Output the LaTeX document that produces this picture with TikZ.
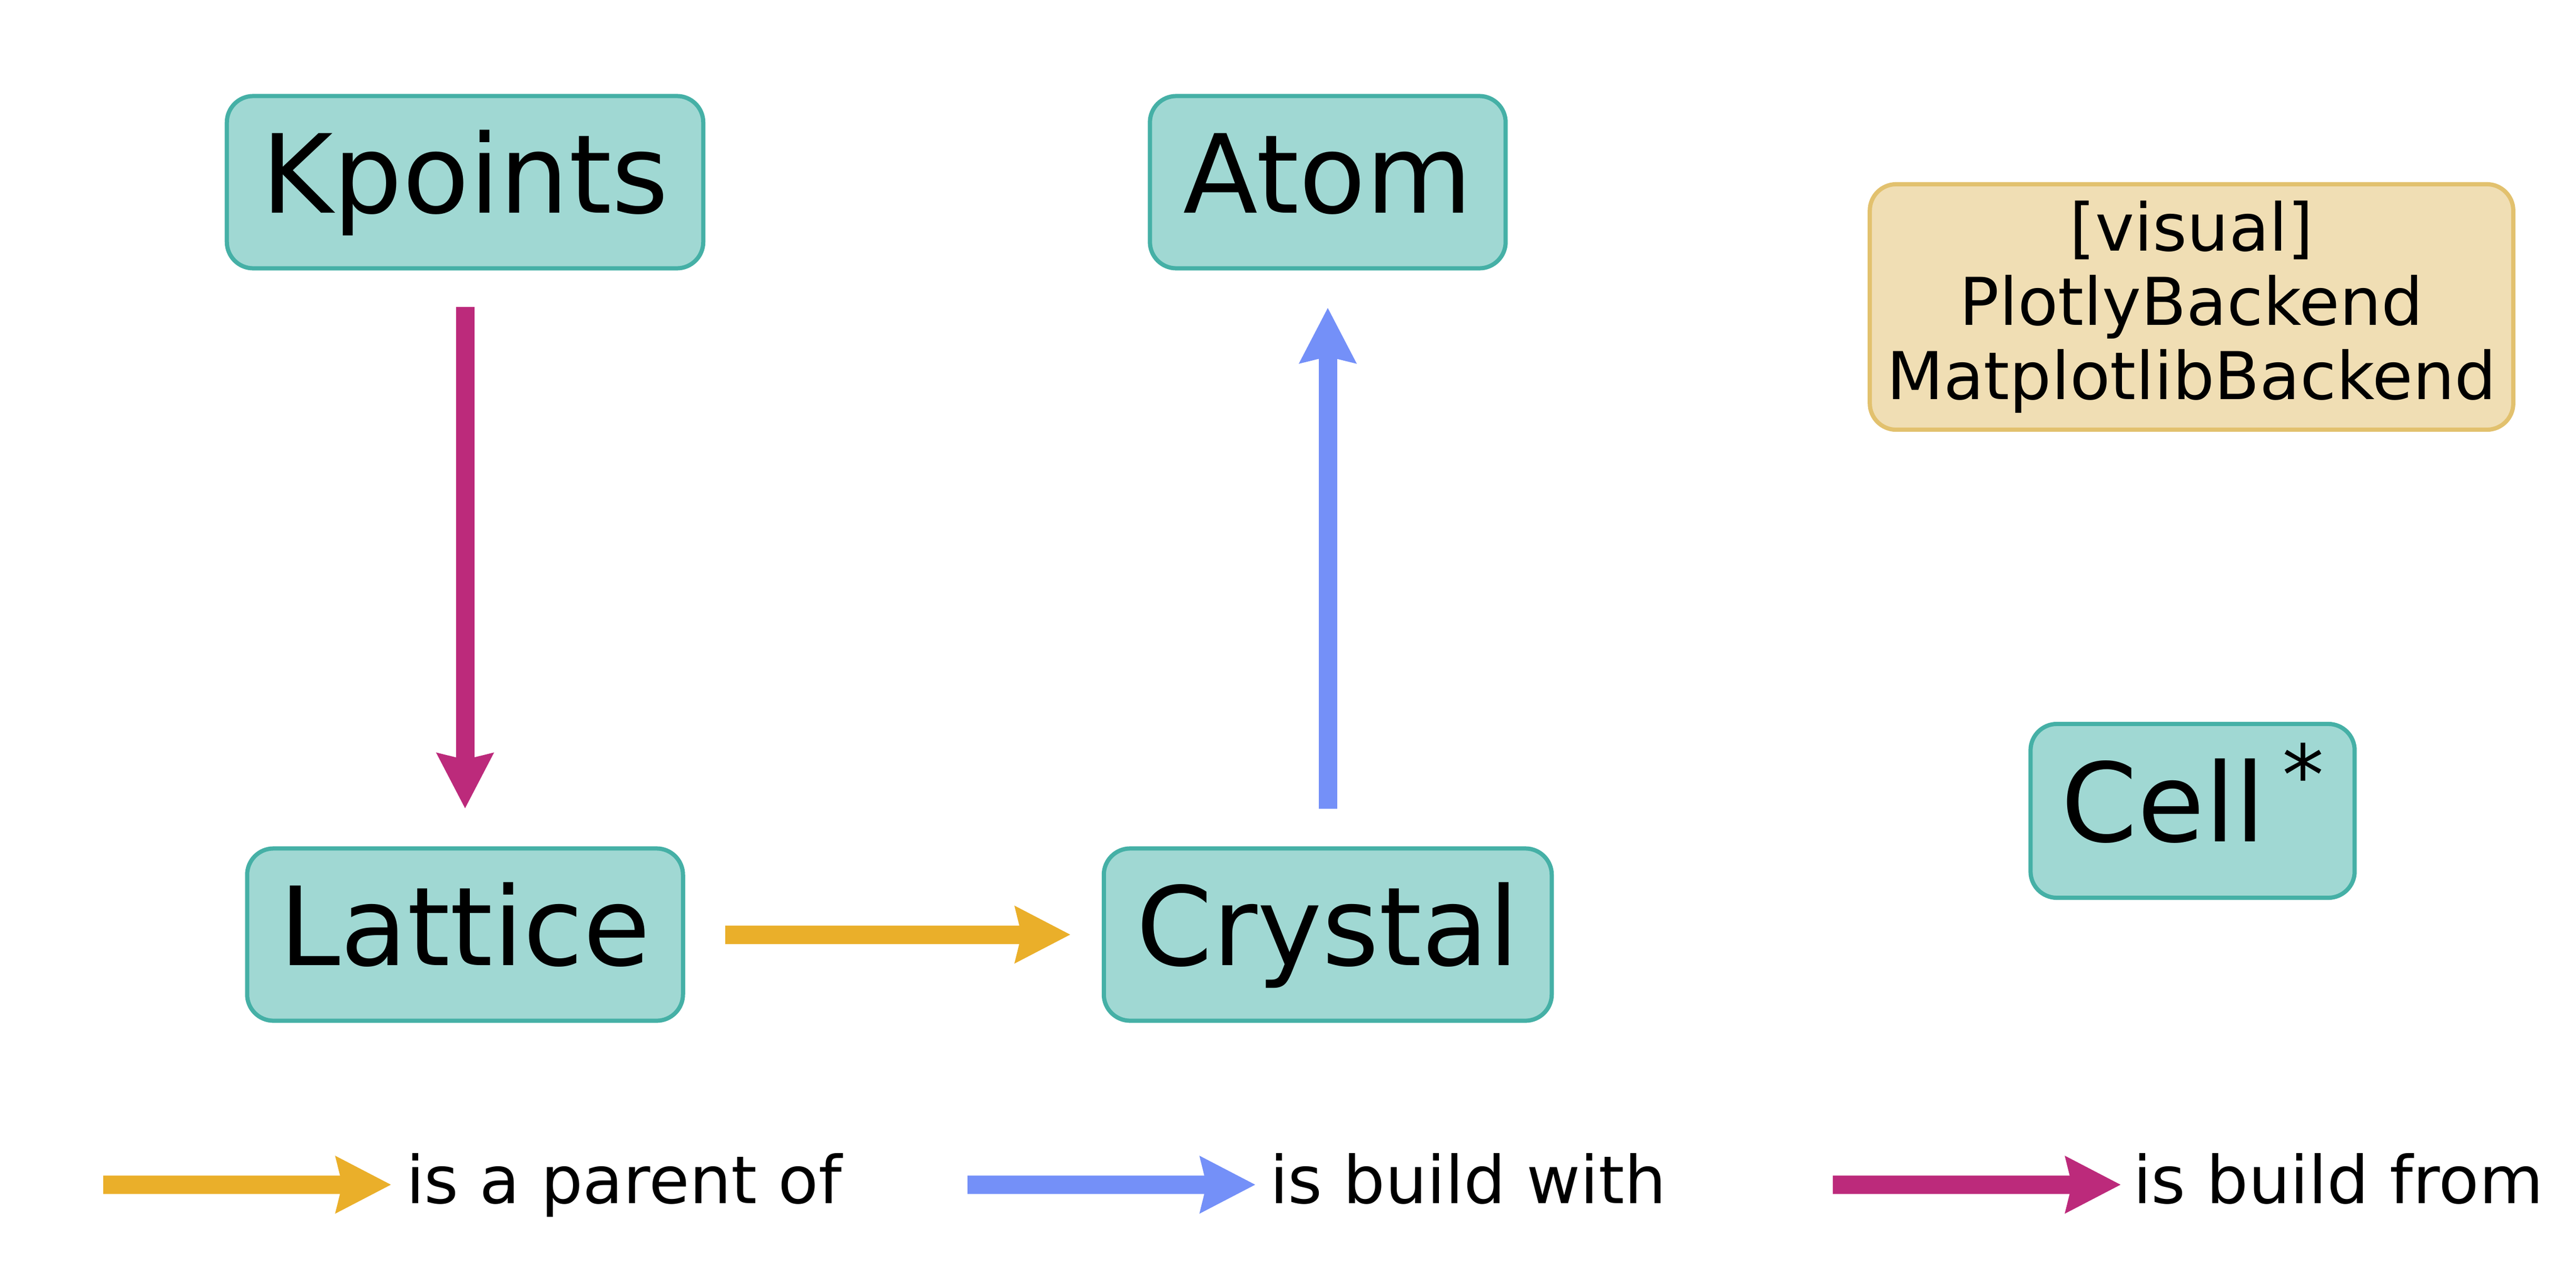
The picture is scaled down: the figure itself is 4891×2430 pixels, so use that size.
\documentclass[tikz,border=0pt]{standalone}
\usepackage{fontspec}
\setmainfont{DejaVu Sans}
\usetikzlibrary{arrows.meta}
\definecolor{boxfill}{HTML}{A0D8D3}
\definecolor{boxline}{HTML}{45B0A6}
\definecolor{visfill}{HTML}{F0DEB4}
\definecolor{visline}{HTML}{E2C16E}
\definecolor{parentc}{HTML}{EAAF2A}
\definecolor{withc}{HTML}{7490F8}
\definecolor{fromc}{HTML}{BC2A7B}
\begin{document}
\begin{tikzpicture}[x=0.01cm,y=-0.01cm,
  cls/.style={draw=boxline, fill=boxfill, line width=0.08cm, rounded corners=0.5cm,
    outer sep=0pt, inner sep=0pt, font=\fontsize{59}{71}\selectfont,
    text height=1.62cm, text depth=0.45cm, minimum height=3.27cm},
  vis/.style={draw=visline, fill=visfill, line width=0.08cm, rounded corners=0.5cm,
    outer sep=0pt, inner sep=0pt, align=center, font=\fontsize{35.6}{40.1}\selectfont,
    minimum width=12.21cm, minimum height=4.66cm},
  rel/.style={line width=0.35cm, -{Stealth[length=1.04cm, width=1.04cm, inset=0.11cm]}},
  legtext/.style={anchor=base west, inner sep=0pt, outer sep=0pt,
    font=\fontsize{35.6}{43}\selectfont, text height=0.96cm, text depth=0.26cm},
]
\useasboundingbox (0,0) rectangle (4891,2430);

\node[cls, minimum width=9.04cm] (kp) at (883,346) {Kpoints};
\node[cls, minimum width=6.75cm] (atom) at (2521,346) {Atom};
\node[cls, minimum width=8.27cm] (lat) at (883,1775) {Lattice};
\node[cls, minimum width=8.50cm] (cry) at (2521,1775) {Crystal};
\node[cls, minimum width=6.15cm, minimum height=3.30cm] (cell) at (4163,1540)
  {Cell\hspace{0.32cm}\raisebox{0.7cm}{\fontsize{45}{45}\selectfont *}};
\node[vis] (vis) at (4161,583) {[visual]\\PlotlyBackend\\MatplotlibBackend};

\draw[rel, fromc, shorten <=0.735cm, shorten >=0.755cm] (kp.south) -- (lat.north);
\draw[rel, withc, shorten <=0.755cm, shorten >=0.745cm] (cry.north) -- (atom.south);
\draw[rel, parentc, shorten <=0.80cm, shorten >=0.63cm] (lat.east) -- (cry.west);

\coordinate (l1) at (196,2250);
\node[legtext] (t1) at (771,2285) {is a parent of};
\draw[rel, parentc, shorten >=0.28cm] (l1) -- (t1.west);

\coordinate (l2) at (1837,2250);
\node[legtext] (t2) at (2411,2285) {is build with};
\draw[rel, withc, shorten >=0.27cm] (l2) -- (t2.west);

\coordinate (l3) at (3480,2250);
\node[legtext] (t3) at (4050,2285) {is build from};
\draw[rel, fromc, shorten >=0.23cm] (l3) -- (t3.west);
\end{tikzpicture}
\end{document}
